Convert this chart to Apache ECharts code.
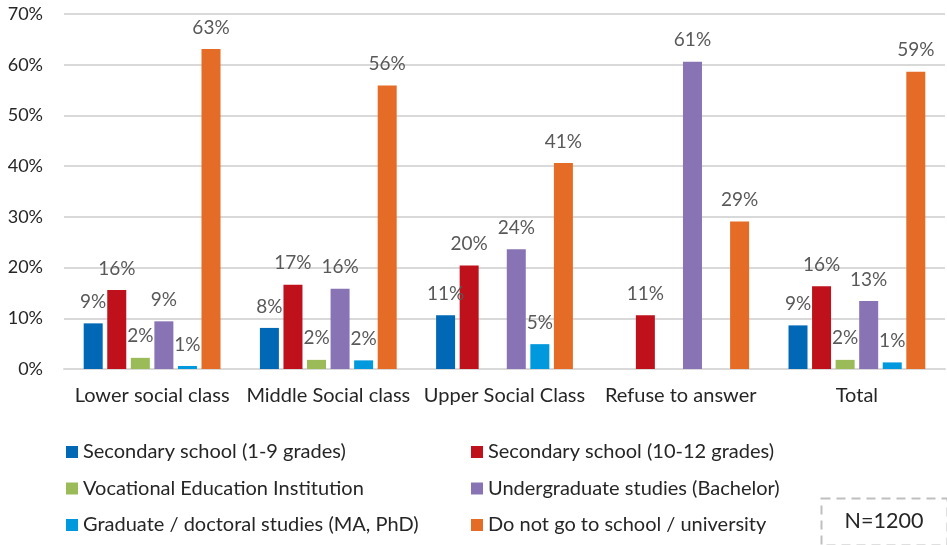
<!DOCTYPE html>
<html>
<head>
<meta charset="utf-8">
<script src="https://cdn.jsdelivr.net/npm/echarts@6/dist/echarts.min.js"></script>
<style>html,body{margin:0;padding:0;background:#fff}#c{width:947px;height:545px}</style>
</head>
<body>
<div id="c"></div>
<script>
var categories = ['Lower social class', 'Middle Social class', 'Upper Social Class', 'Refuse to answer', 'Total'];
var seriesNames = ['Secondary school (1-9 grades)', 'Secondary school (10-12 grades)', 'Vocational Education Institution', 'Undergraduate studies (Bachelor)', 'Graduate / doctoral studies (MA, PhD)', 'Do not go to school / university'];
var secondary19 = [9.0, 8.1, 10.6, null, 8.6];
var secondary1012 = [15.6, 16.6, 20.4, 10.6, 16.3];
var vocational = [2.2, 1.8, null, null, 1.8];
var undergraduate = [9.4, 15.8, 23.6, 60.6, 13.4];
var graduate = [0.6, 1.7, 4.9, null, 1.3];
var notInSchool = [63.1, 55.9, 40.6, 29.1, 58.6];
var yTicks = ['0%', '10%', '20%', '30%', '40%', '50%', '60%', '70%'];
var sampleNote = 'N=1200';

var colors = ['#0068B4', '#BE111B', '#9BBB59', '#8874B4', '#0099DD', '#E56C26'];
var allData = [secondary19, secondary1012, vocational, undergraduate, graduate, notInSchool];
var FONT = 'Lato';

var chart = echarts.init(document.getElementById('c'), null, {renderer: 'canvas'});
var series = allData.map(function (d, i) {
  return {
    name: seriesNames[i],
    type: 'bar',
    data: d,
    barWidth: 19,
    barGap: '24%',
    itemStyle: {color: colors[i]},
    label: {
      show: true,
      position: 'top',
      distance: 12,
      color: '#595959',
      fontFamily: FONT,
      fontSize: 19,
      formatter: function (p) { return p.value == null ? '' : Math.round(p.value) + '%'; }
    }
  };
});

chart.setOption({
  animation: false,
  color: colors,
  textStyle: {fontFamily: FONT},
  grid: {left: 64, right: 2, top: 14, bottom: 176, containLabel: false},
  xAxis: {
    type: 'category',
    data: categories,
    axisTick: {show: false},
    axisLine: {lineStyle: {color: '#d9d9d9', width: 2}},
    axisLabel: {color: '#262626', fontSize: 20, fontFamily: FONT, margin: 17, interval: 0}
  },
  yAxis: {
    type: 'value',
    min: 0,
    max: 70,
    interval: 10,
    axisLine: {show: false},
    axisTick: {show: false},
    splitLine: {lineStyle: {color: '#d9d9d9', width: 2}},
    axisLabel: {
      color: '#262626', fontSize: 18, fontFamily: FONT, margin: 21,
      formatter: function (v) { return yTicks[Math.round(v / 10)]; }
    }
  },
  legend: [
    {
      orient: 'vertical', left: 61, top: 437, itemWidth: 12, itemHeight: 12, itemGap: 16.5,
      selectedMode: false, icon: 'rect',
      textStyle: {color: '#262626', fontSize: 20, fontFamily: FONT, lineHeight: 20},
      data: [seriesNames[0], seriesNames[2], seriesNames[4]]
    },
    {
      orient: 'vertical', left: 466, top: 437, itemWidth: 12, itemHeight: 12, itemGap: 16.5,
      selectedMode: false, icon: 'rect',
      textStyle: {color: '#262626', fontSize: 20, fontFamily: FONT, lineHeight: 20},
      data: [seriesNames[1], seriesNames[3], seriesNames[5]]
    }
  ],
  graphic: [
    {
      type: 'rect', left: 819, top: 496,
      shape: {width: 126, height: 47},
      style: {fill: 'none', stroke: '#bfbfbf', lineWidth: 2, lineDash: [9, 6]}
    },
    {
      type: 'text', x: 884, y: 521,
      style: {text: sampleNote, fontSize: 21.5, fontFamily: FONT, fill: '#262626', align: 'center', verticalAlign: 'middle'}
    }
  ],
  series: series
});
</script>
</body>
</html>
